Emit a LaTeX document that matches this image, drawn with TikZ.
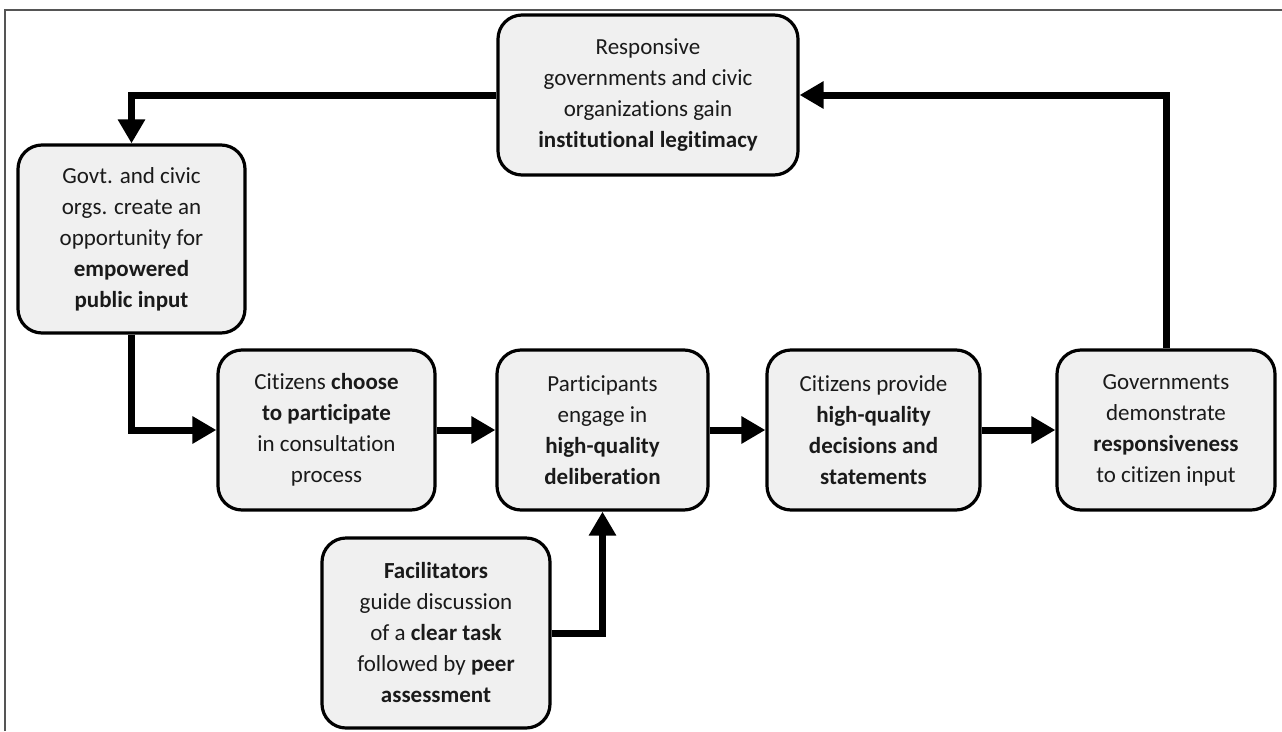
\documentclass[tikz,border=0pt]{standalone}
\usepackage{fontspec}
\setmainfont{Carlito}[Ligatures=NoCommon]
\usetikzlibrary{arrows.meta}
\definecolor{boxgray}{HTML}{F0F0F0}
\definecolor{txtgray}{HTML}{1A1A1A}
\definecolor{framegray}{HTML}{555555}
\begin{document}
\begin{tikzpicture}[x=1pt,y=-1pt,
  box/.style={draw=black, line width=3.2pt, rounded corners=24pt, fill=boxgray,
    align=center, inner sep=0pt, text=txtgray, font=\fontsize{23}{31}\selectfont},
  arr/.style={line width=7pt, -{Triangle[length=24pt,width=26pt]}}]
\useasboundingbox (0,0) rectangle (1282,731);
\draw[framegray, line width=1.2pt] (5,731) -- (5,10) -- (1282,10);

\node[box, minimum width=300pt, minimum height=160pt] (top) at (648,95)
  {Responsive\\governments and civic\\organizations gain\\\textbf{institutional legitimacy}};
\node[box, minimum width=227pt, minimum height=188pt] (govt) at (131.5,239)
  {Govt. and civic\\orgs. create an\\opportunity for\\\textbf{empowered}\\\textbf{public input}};
\node[box, minimum width=217pt, minimum height=160pt] (choose) at (326.5,430)
  {Citizens \textbf{choose}\\\textbf{to participate}\\in consultation\\process};
\node[box, minimum width=211pt, minimum height=160pt] (partic) at (602.5,430)
  {Participants\\engage in\\\textbf{high-quality}\\\textbf{deliberation}};
\node[box, minimum width=213pt, minimum height=160pt] (provide) at (873.5,430)
  {Citizens provide\\\textbf{high-quality}\\\textbf{decisions and}\\\textbf{statements}};
\node[box, minimum width=218pt, minimum height=160pt] (gov) at (1166,430)
  {Governments\\demonstrate\\\textbf{responsiveness}\\to citizen input};
\node[box, minimum width=228pt, minimum height=190pt] (facil) at (436,633)
  {\textbf{Facilitators}\\guide discussion\\of a \textbf{clear task}\\followed by \textbf{peer}\\\textbf{assessment}};

\draw[arr] (top.west) -| (govt.north);
\draw[arr] (govt.south) |- (choose.west);
\draw[arr] (choose.east) -- (partic.west);
\draw[arr] (partic.east) -- (provide.west);
\draw[arr] (provide.east) -- (gov.west);
\draw[arr] (gov.north) |- (top.east);
\draw[arr] (facil.east) -| (partic.south);
\end{tikzpicture}
\end{document}
